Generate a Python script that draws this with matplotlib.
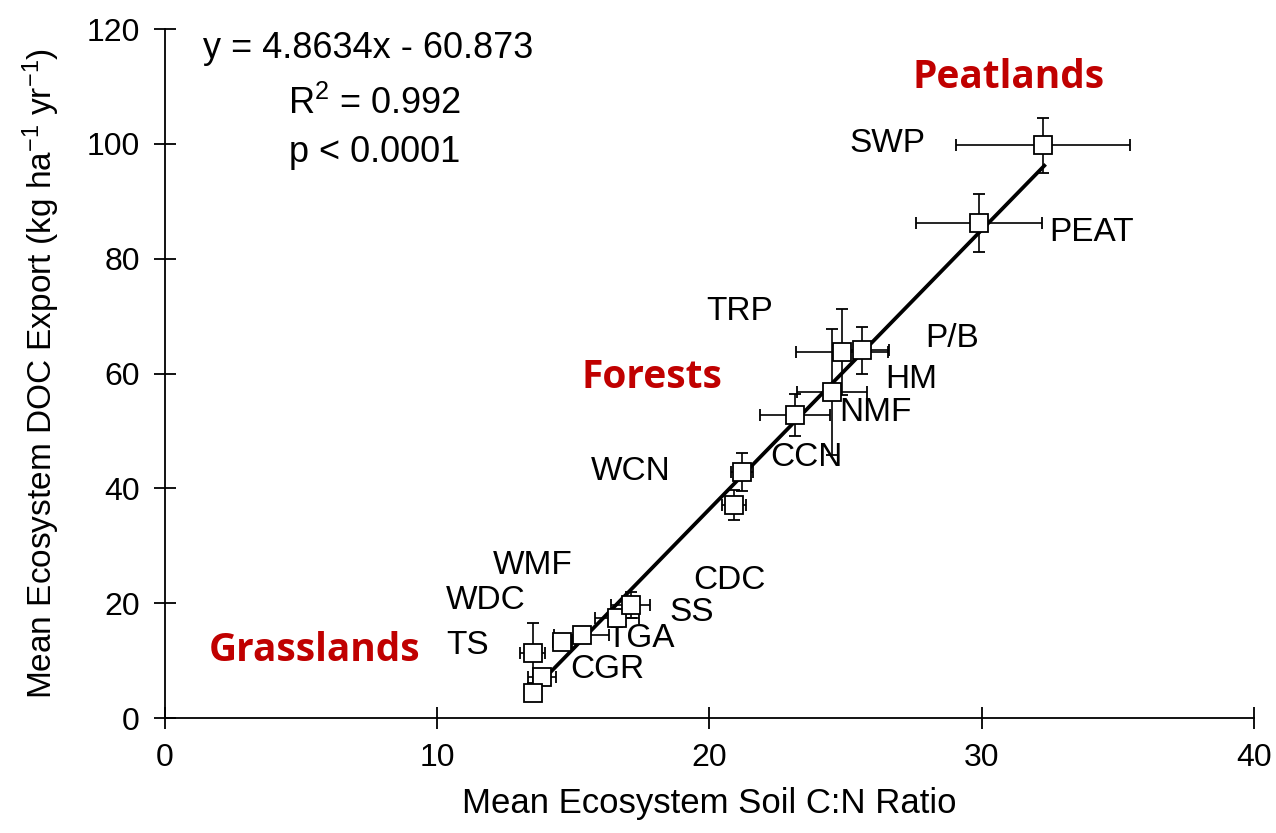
import matplotlib.pyplot as plt

plt.rcParams['font.family'] = ['Liberation Sans', 'DejaVu Sans']
plt.rcParams['mathtext.fontset'] = 'custom'
plt.rcParams['mathtext.rm'] = 'Liberation Sans'
plt.rcParams['mathtext.default'] = 'regular'

# ecosystem data
sites = ['SWP', 'PEAT', 'TRP', 'P/B', 'HM', 'NMF', 'CCN', 'WCN',
         'WMF', 'WDC', 'TS', 'CGR', 'TGA', 'SS', 'CDC']
cn_ratio = [32.25, 29.9, 24.87, 25.6, 24.5, 23.14, 21.2, 20.9,
            14.6, 13.85, 13.5, 13.5, 15.3, 16.6, 17.1]
doc_export = [99.8, 86.2, 63.7, 64.1, 56.8, 52.8, 42.8, 37.1,
              13.2, 7.1, 11.3, 4.4, 14.5, 17.4, 19.7]
cn_err = [3.2, 2.3, 1.7, 1.0, 1.3, 1.3, 0.4, 0.45,
          0.35, 0.5, 0.45, 0.0, 1.0, 0.8, 0.7]
doc_err = [4.8, 5.1, 7.5, 4.1, 11.0, 3.7, 3.3, 2.6,
           0.8, 1.0, 5.2, 0.0, 0.8, 1.5, 2.2]

slope = 4.8634
intercept = -60.873
fit_range = [13.6, 32.3]

groups = ['Peatlands', 'Forests', 'Grasslands']

# where the site labels sit (data coords)
label_pos = [(26.55, 100.1), (34.05, 84.6), (21.1, 70.9), (28.9, 66.2),
             (27.4, 58.9), (26.1, 53.3), (23.55, 45.3), (17.1, 43.0),
             (13.5, 26.6), (11.8, 20.4), (11.1, 12.7), (16.25, 8.4),
             (17.45, 13.9), (19.35, 18.3), (20.75, 23.9)]
group_pos = [(31.0, 111.5), (17.9, 59.4), (5.5, 11.7)]

fig = plt.figure(figsize=(12.76, 8.33), dpi=100)
ax = fig.add_axes([0.1293, 0.138, 0.8534, 0.827])

fit_y = [slope * x + intercept for x in fit_range]
ax.plot(fit_range, fit_y, color='black', linewidth=2.7, zorder=3)

ax.errorbar(cn_ratio, doc_export, xerr=cn_err, yerr=doc_err, fmt='s',
            markersize=12.5, markerfacecolor='white', markeredgecolor='black',
            markeredgewidth=1.3, ecolor='black', elinewidth=1.2,
            capsize=4, capthick=1.2, zorder=4)

for name, (lx, ly) in zip(sites, label_pos):
    ax.text(lx, ly, name, fontsize=24, ha='center', va='center')

for name, (gx, gy) in zip(groups, group_pos):
    ax.text(gx, gy, name, fontsize=28, fontweight='bold', color='#c00000',
            ha='center', va='center', family=['Open Sans', 'DejaVu Sans'])

ax.text(1.4, 116.7, 'y = 4.8634x - 60.873', fontsize=26, ha='left', va='center')
ax.text(7.7, 106.9, 'R$^2$ = 0.992', fontsize=26, ha='center', va='center')
ax.text(7.7, 98.6, 'p < 0.0001', fontsize=26, ha='center', va='center')

ax.set_xlim(0, 40)
ax.set_ylim(0, 120)
ax.set_xticks(range(0, 41, 10))
ax.set_yticks(range(0, 121, 20))
ax.spines['top'].set_visible(False)
ax.spines['right'].set_visible(False)
for s in ['left', 'bottom']:
    ax.spines[s].set_linewidth(1.3)
ax.tick_params(direction='inout', length=16, width=1.3, labelsize=23, pad=10)
ax.set_xlabel('Mean Ecosystem Soil C:N Ratio', fontsize=25, labelpad=10)
ax.set_ylabel('Mean Ecosystem DOC Export (kg ha$^{-1}$ yr$^{-1}$)', fontsize=24, labelpad=18)

fig.savefig('out.png', dpi=100)
